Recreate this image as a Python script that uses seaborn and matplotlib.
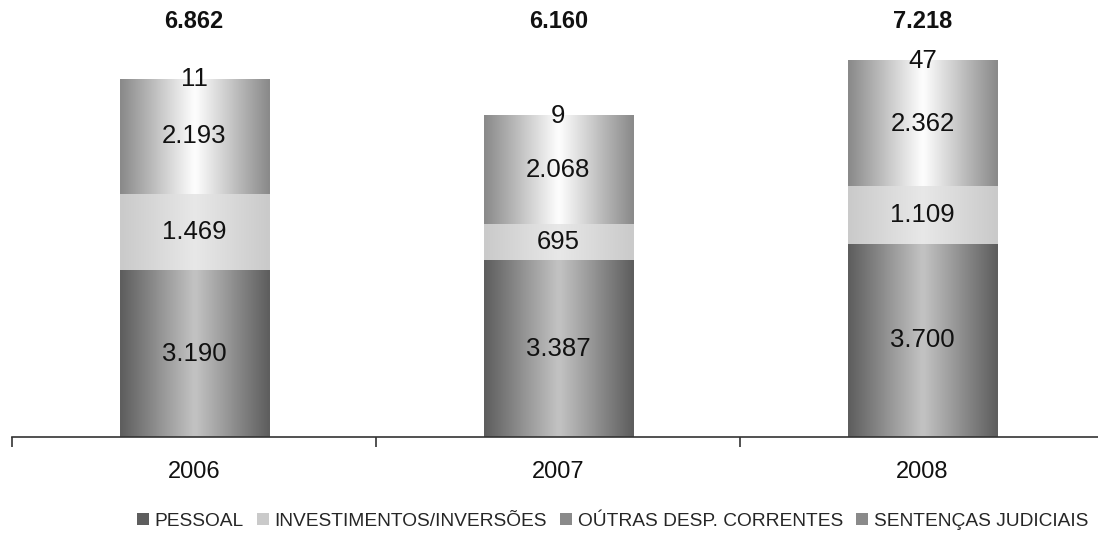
import numpy as np
import pandas as pd
import matplotlib
matplotlib.use("Agg")
import matplotlib.pyplot as plt
from matplotlib.patches import Patch
from matplotlib.colors import LinearSegmentedColormap
import seaborn as sns

# dados (R$ milhões)
anos = ["2006", "2007", "2008"]
series = ["PESSOAL", "INVESTIMENTOS/INVERSÕES", "OÚTRAS DESP. CORRENTES", "SENTENÇAS JUDICIAIS"]
pessoal = [3190, 3387, 3700]
investimentos = [1469, 695, 1109]
outras = [2193, 2068, 2362]
sentencas = [11, 9, 47]
totais = [6862, 6160, 7218]

# cores: (borda, centro) de cada faixa
cores = {
    "PESSOAL": ("#5e5e5e", "#c4c4c4"),
    "INVESTIMENTOS/INVERSÕES": ("#cacaca", "#e8e8e8"),
    "OÚTRAS DESP. CORRENTES": ("#8a8a8a", "#ffffff"),
    "SENTENÇAS JUDICIAIS": ("#8a8a8a", "#ffffff"),
}


def fmt(v):
    return f"{v:,}".replace(",", ".")


sns.set_theme(style="white")
plt.rcParams["font.family"] = ["Liberation Sans", "DejaVu Sans"]

df = pd.DataFrame({
    "ano": anos * 4,
    "serie": np.repeat(series, 3),
    "valor": pessoal + investimentos + outras + sentencas,
})

fig = plt.figure(figsize=(10.98, 5.35), dpi=100)
ax = fig.add_axes([0.011, 0.183, 0.995, 0.789])

base = np.zeros(len(anos))
for s in series:
    vals = df[df["serie"] == s]["valor"].to_numpy()
    n0 = len(ax.patches)
    sns.barplot(data=df[df["serie"] == s], x="ano", y="valor", order=anos,
                bottom=base, color=cores[s][1], width=0.41, ax=ax,
                linewidth=0, saturation=1, err_kws={"linewidth": 0})
    # gradiente horizontal (efeito cilindro)
    cmap = LinearSegmentedColormap.from_list(s, [cores[s][0], cores[s][1], cores[s][0]])
    grad = np.linspace(0, 1, 64).reshape(1, -1)
    for p in ax.patches[n0:]:
        x0, y0 = p.get_x(), p.get_y()
        w, h = p.get_width(), p.get_height()
        im = ax.imshow(grad, cmap=cmap, aspect="auto", extent=[x0, x0 + w, y0, y0 + h],
                       zorder=p.get_zorder(), interpolation="bicubic")
        im.set_clip_path(p)
    for i, v in enumerate(vals):
        ax.text(i, base[i] + v / 2, fmt(v), ha="center", va="center",
                fontsize=18.5, color="#111111", zorder=5)
    base = base + vals

ax.set_xlim(-0.5, 2.5)
ax.set_ylim(0, 8080)
ax.set_aspect("auto")

trans = matplotlib.transforms.blended_transform_factory(ax.transData, ax.transAxes)
for i, t in enumerate(totais):
    ax.text(i, 0.985, fmt(t), transform=trans, ha="center", va="center",
            fontsize=17, fontweight="bold", color="#111111")

for sp in ["top", "right", "left"]:
    ax.spines[sp].set_visible(False)
ax.spines["bottom"].set_color("#333333")
ax.spines["bottom"].set_linewidth(1.2)
ax.set_yticks([])
ax.set_xlabel("")
ax.set_ylabel("")
ax.set_xticks(range(3))
ax.set_xticklabels(anos, fontsize=17, color="#111111")
ax.tick_params(axis="x", which="major", length=0, pad=17)
ax.set_xticks([-0.5, 0.5, 1.5, 2.5], minor=True)
ax.tick_params(axis="x", which="minor", length=7, width=1.2, color="#333333",
               direction="out", bottom=True)

handles = [Patch(facecolor=cores[s][0], edgecolor="none") for s in series]
fig.legend(handles, series, loc="center", bbox_to_anchor=(0.558, 0.026), ncol=4,
           frameon=False, handlelength=0.6, handleheight=0.6, handletextpad=0.3,
           columnspacing=0.7, prop={"family": ["Liberation Sans", "DejaVu Sans"], "size": 13.8})

fig.savefig("out.png", dpi=100)
